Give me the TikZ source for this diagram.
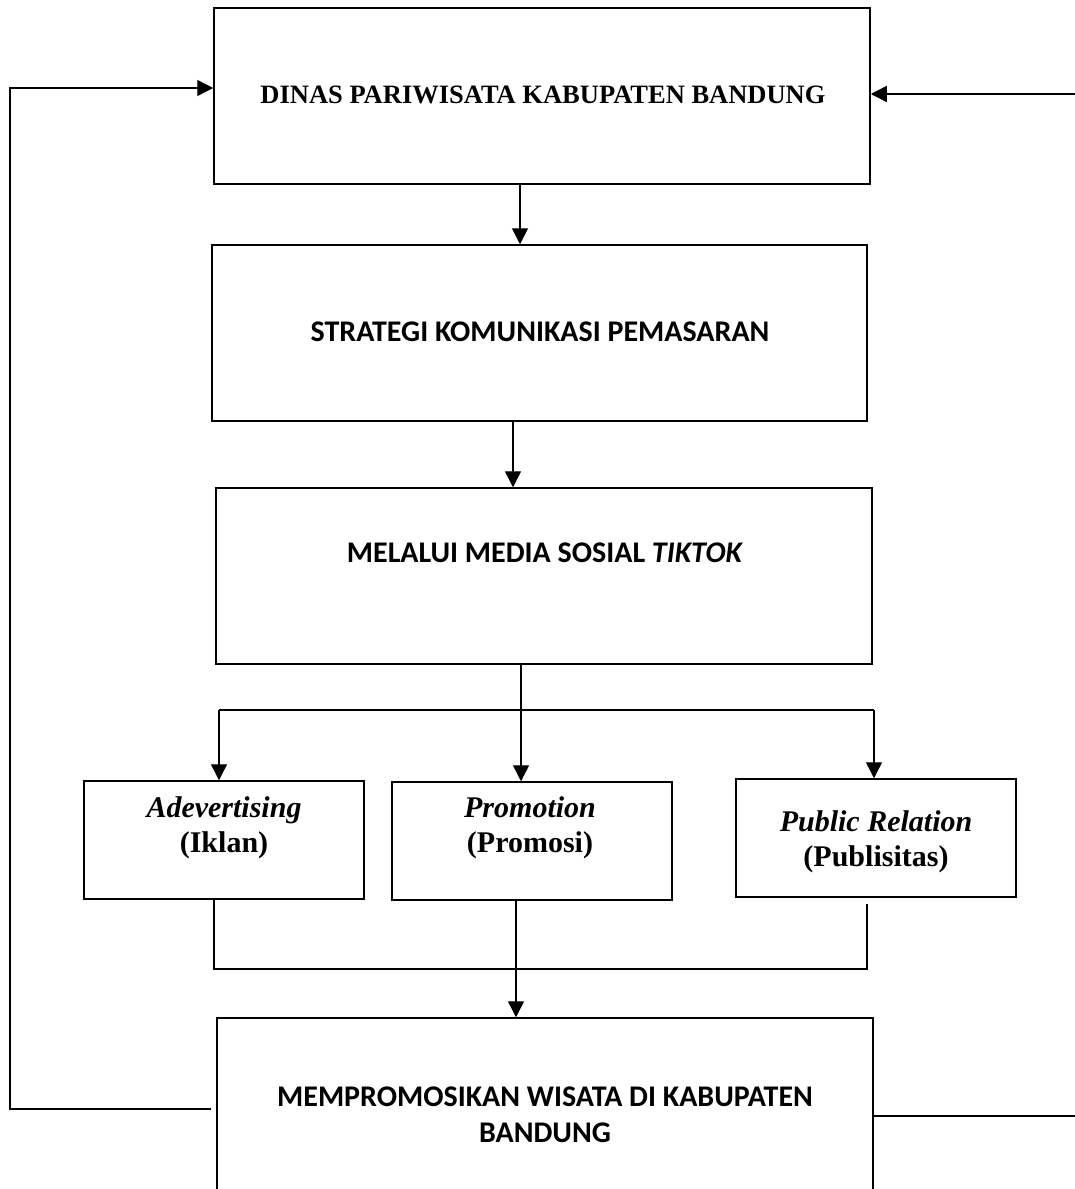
\documentclass[tikz,border=0pt]{standalone}
\usepackage{fontspec}
\setmainfont{Liberation Serif}
\newfontfamily\calib{Carlito}
\usetikzlibrary{arrows.meta}
\begin{document}
\begin{tikzpicture}[x=1pt,y=-1pt,
  box/.style={draw, line width=1.5pt, inner sep=0pt, minimum width=#1},
  box/.default=656pt,
  lbl/.style={inner sep=0pt, align=center},
  conn/.style={line width=1.4pt},
  arr/.style={conn, -{Triangle[length=16pt,width=16pt]}},
  serifbig/.style={font=\fontsize{26.5}{30}\selectfont\bfseries},
  serifsmall/.style={font=\fontsize{30}{35}\selectfont\bfseries},
  calibri/.style={font=\calib\fontsize{30}{36}\selectfont\bfseries}]
\useasboundingbox (0,0) rectangle (1075,1189);
\clip (0,0) rectangle (1075,1189);

% boxes
\node[box, minimum height=176pt] (top) at (542,96) {};
\node[box=655pt, minimum height=176pt] (s2) at (539.5,333) {};
\node[box, minimum height=176pt] (s3) at (544,576) {};
\node[box=280pt, minimum height=118pt] (A) at (224,840) {};
\node[box=280pt, minimum height=118pt] (B) at (532,841) {};
\node[box=280pt, minimum height=118pt] (C) at (876,838) {};
\node[box, minimum height=190pt] (bot) at (545,1113) {};

% texts
\node[lbl, serifbig] (t1) at (543,95) {DINAS PARIWISATA KABUPATEN BANDUNG};
\node[lbl, calibri] (t2) at (540,332) {STRATEGI KOMUNIKASI PEMASARAN};
\node[lbl, calibri] (t3) at (545,553) {MELALUI MEDIA SOSIAL \textit{TIKTOK}};
\node[lbl, serifsmall] (tA) at (224,828) {\textit{Adevertising}\\(Iklan)};
\node[lbl, serifsmall] (tB) at (530,828) {\textit{Promotion}\\(Promosi)};
\node[lbl, serifsmall] (tC) at (876,842) {\textit{Public Relation}\\(Publisitas)};
\node[lbl, calibri] (t5) at (545,1115) {MEMPROMOSIKAN WISATA DI KABUPATEN\\BANDUNG};

% helper coordinates
\coordinate (c1) at (520,0);
\coordinate (c2) at (513,0);
\coordinate (jL) at (219,710);
\coordinate (jM) at (521,710);
\coordinate (jR) at (874,710);
\coordinate (kL) at (214,969);
\coordinate (kM) at (516,969);
\coordinate (kR) at (867,969);
\coordinate (lb) at (211,1109);
\coordinate (L1) at (10,1109);
\coordinate (L2) at (10,88);
\coordinate (rb) at (875,1116);
\coordinate (R1) at (1085,1116);
\coordinate (R2) at (1085,94);

% vertical chain
\draw[arr] (top.south -| c1) -- (s2.north -| c1);
\draw[arr] (s2.south -| c2) -- (s3.north -| c2);

% split to three
\draw[conn] (jL) -- (jR);
\draw[arr] (s3.south -| jM) -- (B.north -| jM);
\draw[arr] (jL) -- (A.north -| jL);
\draw[arr] (jR) -- (C.north -| jR);

% merge
\draw[conn] (A.south -| kL) -- (kL) -- (kR) -- ([yshift=-6pt]C.south -| kR);
\draw[arr] (B.south -| kM) -- (bot.north -| kM);

% feedback loops
\draw[arr] (lb) -- (L1) -- (L2) -- (L2 -| top.west);
\draw[arr] (bot.east |- rb) -- (R1) -- (R2) -- (R2 -| top.east);
\end{tikzpicture}
\end{document}
